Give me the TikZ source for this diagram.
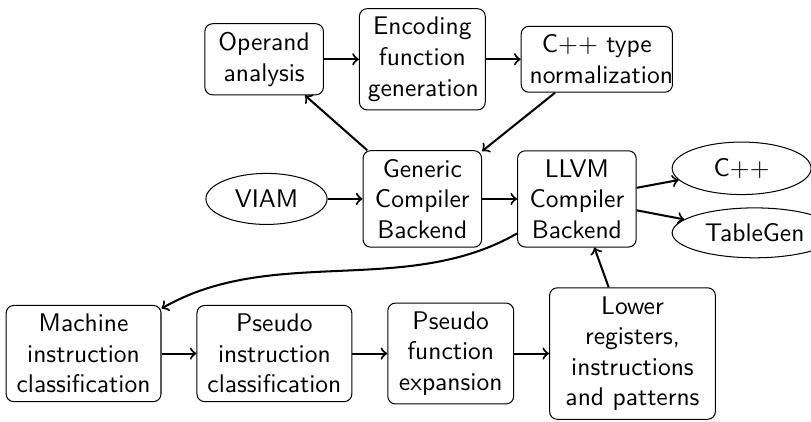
\documentclass[tikz,border=0pt]{standalone}
\usetikzlibrary{positioning,shapes.geometric}
\tikzset{box style/.style={
		draw=black,
		rectangle,
		rounded corners=3pt,
		align=center,
		text width=#1,
		font=\sffamily,
	},
	box style/.default=1.4cm,
	oval style/.style={
		draw=black,
		ellipse,
		font=\sffamily,
	},
	edge style/.style={
		->,
		thick,
	}
}
\begin{document}
\begin{tikzpicture}[node distance=15.6pt and 13.7pt]
	\useasboundingbox (-104.5pt,78pt) rectangle (213.5pt,-87.1pt);
	\node[oval style, minimum width=47.5pt, minimum height=20pt] (VIAM) {VIAM};
	\node[box style, right=of VIAM] (Generic) {Generic\\Compiler\\Backend};
	\node[box style, right=of Generic] (LLVM) {LLVM\\Compiler\\Backend};
	
	\node[box style=1.5cm, above=of Generic] (Encoding) {Encoding\\function\\generation};
	\node[box style, left=of Encoding] (Operand) {Operand\\analysis};
	\node[box style=1.85cm, right=of Encoding] (CppType) {C++ type\\normalization};
	
	\node[oval style, right=of LLVM, yshift=12pt, minimum width=54.5pt] (Cpp) {C++};
	\node[oval style, right=of LLVM, yshift=-13.3pt] (TableGen) {TableGen};
	
	\node[box style=2.05cm, below=of LLVM, xshift=21.8pt] (Lower) {Lower\\registers,\\instructions\\and patterns};
	\node[box style=1.5cm, left=of Lower] (PseudoFunc) {Pseudo\\function\\expansion};
	\node[box style=1.9cm, left=of PseudoFunc] (PseudoInstr) {Pseudo\\instruction\\classification};
	\node[box style=1.9cm, left=of PseudoInstr] (Machine) {Machine\\instruction\\classification};
	
	\draw[edge style] (VIAM) -- (Generic);
	\draw[edge style] (Generic) -- (LLVM);
	\draw[edge style] (Generic) -- (Operand);
	\draw[edge style] (Operand) -- (Encoding);
	\draw[edge style] (Encoding) -- (CppType);
	\draw[edge style] (CppType) -- (Generic);
	\draw[edge style] (LLVM) -- (Cpp);
	\draw[edge style] (LLVM) -- (TableGen);
	\draw[edge style] (LLVM) to[out=210,in=30,looseness=0.9] (Machine);
	\draw[edge style] (Machine) -- (PseudoInstr);
	\draw[edge style] (PseudoInstr) -- (PseudoFunc);
	\draw[edge style] (PseudoFunc) -- (Lower);
	\draw[edge style] (Lower) -- (LLVM);
\end{tikzpicture}
\end{document}
